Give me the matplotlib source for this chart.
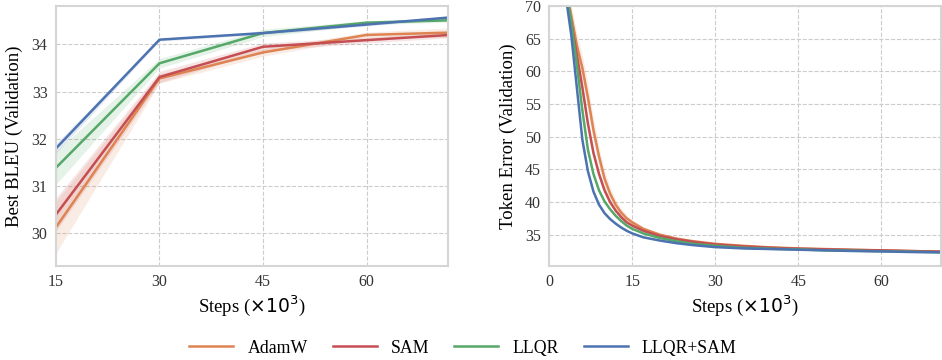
import numpy as np
import matplotlib.pyplot as plt

# ---- data ----
methods = ["AdamW", "SAM", "LLQR", "LLQR+SAM"]
colors = ["#DD8452", "#C44E52", "#55A868", "#4C72B0"]

# left panel: best BLEU at checkpoints (x1000 steps)
bleu_steps = [15, 30, 45, 60, 72]
bleu_adamw = [30.13, 33.28, 33.83, 34.20, 34.25]
bleu_sam = [30.40, 33.31, 33.95, 34.09, 34.20]
bleu_llqr = [31.39, 33.60, 34.24, 34.46, 34.51]
bleu_llqr_sam = [31.80, 34.10, 34.24, 34.42, 34.57]
bleu_std_adamw = [0.55, 0.10, 0.08, 0.06, 0.10]
bleu_std_sam = [0.35, 0.12, 0.08, 0.06, 0.06]
bleu_std_llqr = [0.35, 0.10, 0.08, 0.04, 0.04]
bleu_std_llqr_sam = [0.10, 0.03, 0.03, 0.03, 0.03]

# right panel: token error curves (x1000 steps)
err_steps = [2, 3, 4, 5, 6, 7, 8, 9, 10, 11, 12, 13, 14, 15, 17, 20, 23, 26,
             30, 35, 40, 45, 50, 55, 60, 65, 71]
err_adamw = [80, 73, 68.5, 64, 60.5, 56, 51, 47, 43.6, 41.3, 39.6, 38.4, 37.5,
             36.9, 35.9, 35.0, 34.4, 34.0, 33.6, 33.3, 33.05, 32.9, 32.8, 32.7,
             32.6, 32.5, 32.4]
err_sam = [80, 72, 67.5, 62.5, 57.5, 52, 47.5, 44.3, 41.8, 40.0, 38.7, 37.7,
           36.9, 36.4, 35.6, 34.8, 34.3, 33.9, 33.5, 33.2, 33.0, 32.85, 32.75,
           32.65, 32.6, 32.5, 32.4]
err_llqr = [82, 73, 67.5, 61, 54, 48, 44.3, 41.8, 40.1, 38.9, 37.9, 37.1, 36.4,
            35.9, 35.2, 34.5, 34.0, 33.6, 33.3, 33.0, 32.85, 32.75, 32.6, 32.55,
            32.45, 32.4, 32.3]
err_llqr_sam = [80, 71.5, 65.5, 57.5, 49.5, 44.7, 41.6, 39.6, 38.3, 37.4, 36.7,
                36.1, 35.6, 35.2, 34.6, 34.1, 33.7, 33.4, 33.1, 32.9, 32.8, 32.7,
                32.6, 32.5, 32.45, 32.35, 32.3]
err_std_adamw = [1.5, 1.5, 1.5, 1.8, 2.0, 2.0, 1.8, 1.5, 1.2, 1.0, 0.8, 0.6, 0.5,
                 0.4, 0.3, 0.25, 0.2, 0.15, 0.12, 0.1, 0.1, 0.1, 0.1, 0.1, 0.1,
                 0.1, 0.1]
err_std_sam = [0.8, 0.8, 0.8, 0.8, 0.8, 0.8, 0.7, 0.6, 0.5, 0.4, 0.3, 0.3, 0.2,
               0.2, 0.2, 0.15, 0.1, 0.1, 0.1, 0.1, 0.1, 0.1, 0.1, 0.1, 0.1, 0.1,
               0.1]
err_std_llqr = [0.4, 0.4, 0.4, 0.4, 0.4, 0.4, 0.3, 0.3, 0.2, 0.2, 0.2, 0.15, 0.1,
                0.1, 0.1, 0.1, 0.1, 0.1, 0.05, 0.05, 0.05, 0.05, 0.05, 0.05,
                0.05, 0.05, 0.05]
err_std_llqr_sam = [0.3, 0.3, 0.3, 0.3, 0.3, 0.3, 0.2, 0.2, 0.15, 0.1, 0.1, 0.1,
                    0.1, 0.1, 0.1, 0.05, 0.05, 0.05, 0.05, 0.05, 0.05, 0.05,
                    0.05, 0.05, 0.05, 0.05, 0.05]

bleu = [bleu_adamw, bleu_sam, bleu_llqr, bleu_llqr_sam]
bleu_std = [bleu_std_adamw, bleu_std_sam, bleu_std_llqr, bleu_std_llqr_sam]
err = [err_adamw, err_sam, err_llqr, err_llqr_sam]
err_std = [err_std_adamw, err_std_sam, err_std_llqr, err_std_llqr_sam]

plt.rcParams["font.family"] = ["Liberation Serif", "DejaVu Serif"]
plt.rcParams["mathtext.fontset"] = "dejavusans"

fig = plt.figure(figsize=(9.42, 3.6), dpi=100)
ax1 = fig.add_axes([0.0594, 0.261, 0.4162, 0.722])
ax2 = fig.add_axes([0.583, 0.261, 0.416, 0.722])


def style(ax):
    ax.set_facecolor("white")
    ax.grid(True, linestyle="--", color="#cccccc", linewidth=0.8)
    ax.set_axisbelow(True)
    for s in ax.spines.values():
        s.set_color("#d5d5d5")
        s.set_linewidth(1.5)
    ax.tick_params(length=0, labelsize=11.5, labelcolor="#333333", pad=6)


# ---- left: BLEU ----
for i in range(4):
    y = np.array(bleu[i])
    s = np.array(bleu_std[i])
    ax1.fill_between(bleu_steps, y - s, y + s, color=colors[i], alpha=0.15,
                     linewidth=0)
    ax1.plot(bleu_steps, y, color=colors[i], lw=1.8, label=methods[i])
style(ax1)
ax1.set_xlim(15, 71.8)
ax1.set_ylim(29.31, 34.81)
ax1.set_xticks([15, 30, 45, 60])
ax1.set_yticks([30, 31, 32, 33, 34])
ax1.set_xlabel(r"Steps ($\times 10^3$)", fontsize=13.5, labelpad=2)
ax1.set_ylabel("Best BLEU (Validation)", fontsize=13.5, labelpad=6)

# ---- right: token error ----
for i in range(4):
    y = np.array(err[i])
    s = np.array(err_std[i])
    ax2.fill_between(err_steps, y - s, y + s, color=colors[i], alpha=0.15,
                     linewidth=0)
    ax2.plot(err_steps, y, color=colors[i], lw=1.8)
style(ax2)
ax2.set_xlim(0, 70.8)
ax2.set_ylim(30.2, 70)
ax2.set_xticks([0, 15, 30, 45, 60])
ax2.set_yticks([35, 40, 45, 50, 55, 60, 65, 70])
ax2.set_xlabel(r"Steps ($\times 10^3$)", fontsize=13.5, labelpad=2)
ax2.set_ylabel("Token Error (Validation)", fontsize=13.5, labelpad=6)

handles, labels = ax1.get_legend_handles_labels()
fig.legend(handles, labels, loc="center", bbox_to_anchor=(0.4915, 0.033),
           ncol=4, frameon=False, fontsize=12.8, handlelength=2.47,
           columnspacing=1.4, handletextpad=0.8)

fig.savefig("out.png", dpi=100)
